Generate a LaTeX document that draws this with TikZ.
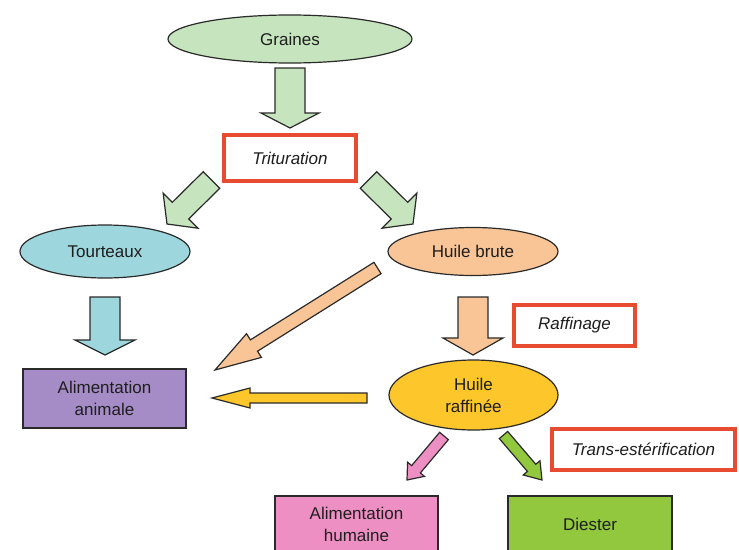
\documentclass[tikz,border=0pt]{standalone}
\usepackage{fontspec}
\setmainfont{Liberation Sans}
\usetikzlibrary{shapes.geometric,calc}
\definecolor{lineC}{HTML}{2A2A2A}
\definecolor{txtC}{HTML}{1E1E1E}
\definecolor{greenL}{HTML}{C6E4BE}
\definecolor{blueL}{HTML}{9ED6DE}
\definecolor{peach}{HTML}{F9C597}
\definecolor{gold}{HTML}{FDC62A}
\definecolor{purpleC}{HTML}{A68CC6}
\definecolor{pinkC}{HTML}{EE8FC4}
\definecolor{greenC}{HTML}{92C83E}
\definecolor{redC}{HTML}{E84C30}
\tikzset{
  txt/.style={text=txtC, font=\fontsize{17}{22}\selectfont, align=center},
  ell/.style={ellipse, draw=lineC, line width=1.2pt, inner sep=0pt, txt},
  rbox/.style={rectangle, draw=lineC, line width=1.2pt, inner sep=0pt, txt},
  redbox/.style={rectangle, draw=redC, line width=4pt, fill=white, inner sep=0pt, txt, font=\fontsize{17}{22}\selectfont\itshape},
  barrow/.style={draw=lineC, line width=1.2pt, line join=miter},
}
\newcommand\blockarrow[6]{%
  \coordinate (ba-c) at ($(#3)!#6!(#2)$);
  \draw[barrow,#1] ($(#2)!#4!90:(#3)$) -- ($(ba-c)!#4!-90:(#2)$) -- ($(ba-c)!#5!-90:(#2)$) -- (#3) -- ($(ba-c)!#5!90:(#2)$) -- ($(ba-c)!#4!90:(#2)$) -- ($(#2)!#4!-90:(#3)$) -- cycle;}
\begin{document}
\begin{tikzpicture}[x=1pt,y=-1pt]
\useasboundingbox (0,0) rectangle (739,549);
\fill[white] (0,0) rectangle (739,549);
% nodes
\node[ell, fill=greenL, minimum width=244pt, minimum height=48pt] (graines) at (290,39) {Graines};
\node[redbox, minimum width=132pt, minimum height=46pt] (trit) at (290,158) {Trituration};
\node[ell, fill=blueL, minimum width=170pt, minimum height=53pt] (tourt) at (105,251.5) {Tourteaux};
\node[ell, fill=peach, minimum width=170pt, minimum height=48pt] (brute) at (473,251.5) {Huile brute};
\node[redbox, minimum width=121pt, minimum height=41pt] (raff) at (574.5,325.5) {Raffinage};
\node[rbox, fill=purpleC, minimum width=163pt, minimum height=59pt] (animale) at (104.5,398.5) {Alimentation\\animale};
\node[ell, fill=gold, minimum width=169pt, minimum height=70pt] (raffinee) at (473.5,395) {Huile\\raffinée};
\node[redbox, minimum width=183pt, minimum height=41pt] (trans) at (643.5,449.5) {Trans-estérification};
\node[rbox, fill=pinkC, minimum width=163pt, minimum height=56pt] (humaine) at (356.5,524) {Alimentation\\humaine};
\node[rbox, fill=greenC, minimum width=164pt, minimum height=56pt] (diester) at (590,524) {Diester};
% arrow end points
\coordinate (a1s) at (290,68);   \coordinate (a1t) at (290,128);
\coordinate (a2s) at (211.5,180); \coordinate (a2t) at (167,224);
\coordinate (a3s) at (368.5,180); \coordinate (a3t) at (413,224);
\coordinate (a4s) at (105,297);  \coordinate (a4t) at (105,355);
\coordinate (a5s) at (377.5,268); \coordinate (a5t) at (215,370);
\coordinate (a6s) at (367,398);  \coordinate (a6t) at (212,398);
\coordinate (a7s) at (473,297);  \coordinate (a7t) at (473,355);
\coordinate (a8s) at (444,436);  \coordinate (a8t) at (407,480);
\coordinate (a9s) at (503.5,435); \coordinate (a9t) at (542,480);
% arrows
\blockarrow{fill=greenL}{a1s}{a1t}{15pt}{29pt}{15pt}
\blockarrow{fill=greenL}{a2s}{a2t}{11.7pt}{24.7pt}{19pt}
\blockarrow{fill=greenL}{a3s}{a3t}{11.7pt}{24.7pt}{19pt}
\blockarrow{fill=blueL}{a4s}{a4t}{15pt}{30pt}{15pt}
\blockarrow{fill=peach}{a5s}{a5t}{6.7pt}{14pt}{46pt}
\blockarrow{fill=gold}{a6s}{a6t}{5pt}{10pt}{38pt}
\blockarrow{fill=peach}{a7s}{a7t}{15pt}{30pt}{17pt}
\blockarrow{fill=pinkC}{a8s}{a8t}{5.7pt}{11pt}{14pt}
\blockarrow{fill=greenC}{a9s}{a9t}{5.5pt}{11pt}{16pt}
\end{tikzpicture}
\end{document}
